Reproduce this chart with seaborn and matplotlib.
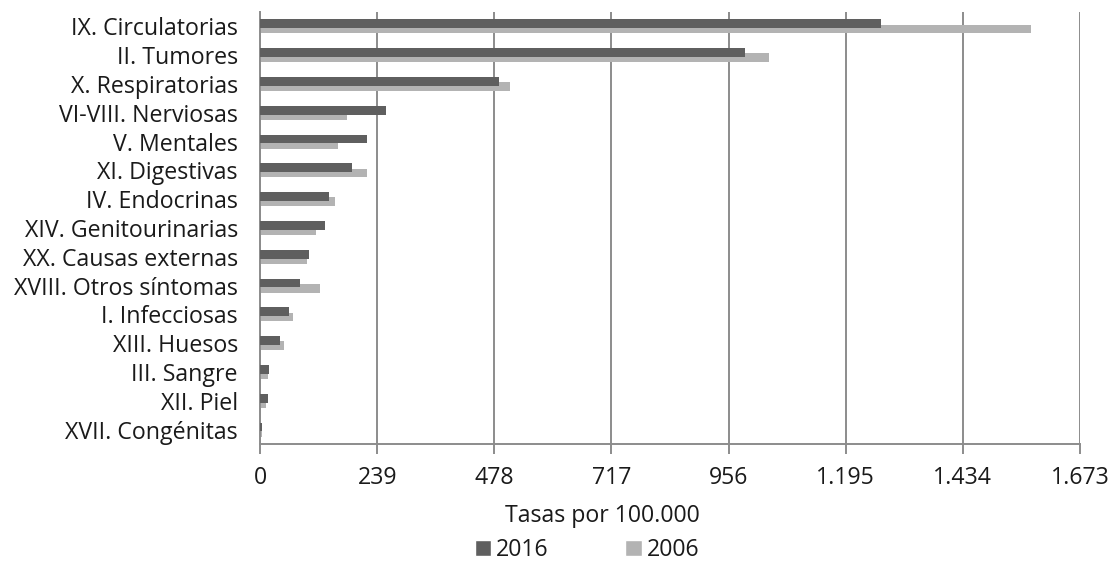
import matplotlib
matplotlib.use("Agg")
import matplotlib.pyplot as plt
import pandas as pd
import seaborn as sns
from matplotlib.patches import Patch
from matplotlib.ticker import FixedLocator, FuncFormatter

# Causes of death (ICD chapters), rate per 100,000 inhabitants
categories = [
    "IX. Circulatorias", "II. Tumores", "X. Respiratorias", "VI-VIII. Nerviosas",
    "V. Mentales", "XI. Digestivas", "IV. Endocrinas", "XIV. Genitourinarias",
    "XX. Causas externas", "XVIII. Otros síntomas", "I. Infecciosas",
    "XIII. Huesos", "III. Sangre", "XII. Piel", "XVII. Congénitas",
]
tasas_2016 = [1268, 990, 488, 257, 218, 188, 141, 133, 100, 82, 60, 41, 19, 16, 5]
tasas_2006 = [1573, 1038, 510, 177, 159, 218, 152, 115, 96, 122, 67, 48, 16, 12, 5]
years = ["2016", "2006"]
x_ticks = [0, 239, 478, 717, 956, 1195, 1434, 1673]
x_title = "Tasas por 100.000"

DARK = "#5f5f5f"
LIGHT = "#b3b3b3"
GRID = "#8c8c8c"
TEXT = "#1a1a1a"
FS = 16.7

sns.set_theme(style="white")
plt.rcParams["font.family"] = ["Open Sans", "DejaVu Sans"]
plt.rcParams["font.size"] = FS
plt.rcParams["text.color"] = TEXT
plt.rcParams["xtick.color"] = TEXT
plt.rcParams["ytick.color"] = TEXT

df = pd.DataFrame({
    "causa": categories * 2,
    "tasa": tasas_2016 + tasas_2006,
    "anio": [years[0]] * len(categories) + [years[1]] * len(categories),
})

fig = plt.figure(figsize=(11.15, 5.64), dpi=100)
ax = fig.add_axes([260 / 1115, 1 - 444 / 564, 820 / 1115, 432 / 564])

sns.barplot(
    data=df, y="causa", x="tasa", hue="anio", hue_order=years,
    palette=[DARK, LIGHT], orient="h", dodge=True, width=0.36,
    saturation=1, errorbar=None, legend=False, ax=ax,
)

# Overlapping bars: widen each bar around its dodged centre, 2016 on top
bar_h = 0.31
for idx, container in enumerate(ax.containers):
    for patch in container.patches:
        c = patch.get_y() + patch.get_height() / 2
        patch.set_height(bar_h)
        patch.set_y(c - bar_h / 2)
        patch.set_linewidth(0)
        patch.set_zorder(3 if idx == 0 else 2)

ax.set_xlim(0, 1673)
ax.set_ylim(len(categories) - 0.5, -0.5)
ax.xaxis.set_major_locator(FixedLocator(x_ticks))
ax.xaxis.set_major_formatter(FuncFormatter(lambda v, p: f"{int(round(v)):,}".replace(",", ".")))

ax.set_axisbelow(True)
ax.xaxis.grid(True, color=GRID, linewidth=1.4)
ax.yaxis.grid(False)

for side in ("top", "right"):
    ax.spines[side].set_visible(False)
for side in ("left", "bottom"):
    ax.spines[side].set_color(GRID)
    ax.spines[side].set_linewidth(1.4)

ax.tick_params(axis="x", bottom=True, direction="out", length=7, width=1.4,
               color=GRID, pad=8.5, labelsize=FS)
ax.tick_params(axis="y", left=False, length=0, pad=16, labelsize=FS)
ax.set_xlabel("")
ax.set_ylabel("")

fig.text(602 / 1115, 1 - 516 / 564, x_title, ha="center", va="center", fontsize=FS)

handles = [Patch(facecolor=DARK, label=years[0]), Patch(facecolor=LIGHT, label=years[1])]
fig.legend(handles=handles, loc="center", bbox_to_anchor=(587 / 1115, 1 - 550 / 564),
           ncol=2, frameon=False, handlelength=0.72, handleheight=0.72,
           handletextpad=0.2, columnspacing=3.3, fontsize=FS, borderaxespad=0,
           borderpad=0)

fig.savefig("out.png", dpi=100)
